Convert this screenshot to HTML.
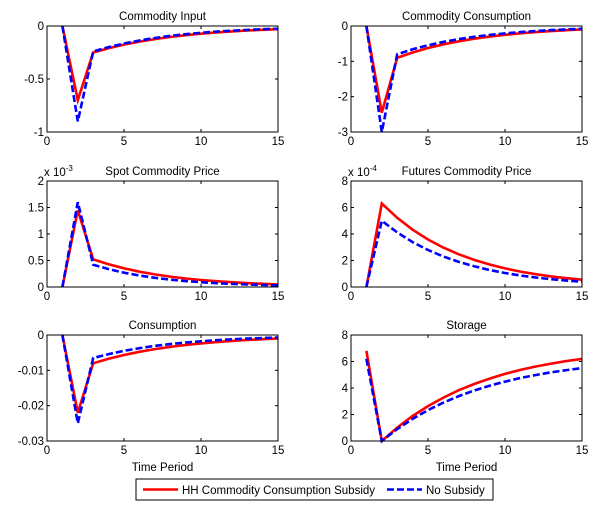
<!DOCTYPE html>
<html><head><style>
body{margin:0;background:#fff;width:600px;height:526px;overflow:hidden}
svg text{font-family:"Liberation Sans",Arial,sans-serif;font-size:11.5px;fill:#000}
</style></head><body>
<svg id="s" width="600" height="526" xmlns="http://www.w3.org/2000/svg"></svg>
<script>
const s=document.getElementById('s');let h='';
function dec(v2,v3,v15){const r=Math.pow(v15/v3,1/12);const a=[0,v2];for(let t=3;t<=15;t++)a.push(v3*Math.pow(r,t-3));return a;}
function stor(v1,L,v15){const q=Math.pow(1-v15/L,1/13);const a=[v1,0];for(let t=3;t<=15;t++)a.push(L*(1-Math.pow(q,t-2)));return a;}
const P=[
{x:47,y:26,t:'Commodity Input',ymin:-1,ymax:0,ticks:[[0,'0'],[-0.5,'-0.5'],[-1,'-1']],r:dec(-0.7,-0.25,-0.03),b:dec(-0.9,-0.24,-0.025)},
{x:351,y:26,t:'Commodity Consumption',ymin:-3,ymax:0,ticks:[[0,'0'],[-1,'-1'],[-2,'-2'],[-3,'-3']],r:dec(-2.45,-0.9,-0.1),b:dec(-3,-0.8,-0.08)},
{x:47,y:181,t:'Spot Commodity Price',ymin:0,ymax:2,ticks:[[0,'0'],[0.5,'0.5'],[1,'1'],[1.5,'1.5'],[2,'2']],r:dec(1.45,0.52,0.05),b:dec(1.6,0.42,0.03),exp:'-3'},
{x:351,y:181,t:'Futures Commodity Price',ymin:0,ymax:8,ticks:[[0,'0'],[2,'2'],[4,'4'],[6,'6'],[8,'8']],r:dec(6.3,5.22,0.55),b:dec(5.0,4.12,0.4),exp:'-4'},
{x:47,y:335,t:'Consumption',ymin:-0.03,ymax:0,ticks:[[0,'0'],[-0.01,'-0.01'],[-0.02,'-0.02'],[-0.03,'-0.03']],r:dec(-0.022,-0.008,-0.001),b:dec(-0.025,-0.0065,-0.0007),xl:1},
{x:351,y:335,t:'Storage',ymin:0,ymax:8,ticks:[[0,'0'],[2,'2'],[4,'4'],[6,'6'],[8,'8']],r:stor(6.8,7.2,6.2),b:stor(6.2,6.4,5.5),xl:1}];
const W=231,H=106;
P.forEach(p=>{
 const X=t=>p.x+t/15*W,Y=v=>p.y+(p.ymax-v)/(p.ymax-p.ymin)*H;
 h+=`<text x="${p.x+W/2}" y="${p.y-6}" text-anchor="middle">${p.t}</text>`;
 if(p.exp)h+=`<text x="${p.x-3}" y="${p.y-5}">x 10<tspan dy="-5" font-size="8">${p.exp}</tspan></text>`;
 const ln=(d,c,da)=>{let pts=d.map((v,i)=>X(i+1).toFixed(1)+','+Y(v).toFixed(1)).join(' ');h+=`<polyline points="${pts}" fill="none" stroke="${c}" stroke-width="2.6" ${da?'stroke-dasharray="7,3"':''}/>`;};
 ln(p.r,'#f00');ln(p.b,'#00f',1);
 h+=`<rect x="${p.x}" y="${p.y}" width="${W}" height="${H}" fill="none" stroke="#000" stroke-width="1"/>`;
 [0,5,10,15].forEach(t=>{const x=X(t);h+=`<line x1="${x}" y1="${p.y+H}" x2="${x}" y2="${p.y+H-3}" stroke="#000"/><line x1="${x}" y1="${p.y}" x2="${x}" y2="${p.y+3}" stroke="#000"/><text x="${x}" y="${p.y+H+13}" text-anchor="middle">${t}</text>`;});
 p.ticks.forEach(([v,l])=>{const y=Y(v);h+=`<line x1="${p.x}" y1="${y}" x2="${p.x+3}" y2="${y}" stroke="#000"/><line x1="${p.x+W}" y1="${y}" x2="${p.x+W-3}" y2="${y}" stroke="#000"/><text x="${p.x-3}" y="${y+4}" text-anchor="end">${l}</text>`;});
 if(p.xl)h+=`<text x="${p.x+W/2}" y="${p.y+H+30}" text-anchor="middle">Time Period</text>`;
});
h+=`<rect x="136" y="479" width="357" height="21" fill="#fff" stroke="#000"/>
<line x1="143" y1="489.5" x2="178" y2="489.5" stroke="#f00" stroke-width="2.6"/>
<text x="182" y="494">HH Commodity Consumption Subsidy</text>
<line x1="387" y1="489.5" x2="422" y2="489.5" stroke="#00f" stroke-width="2.6" stroke-dasharray="7,3"/>
<text x="426" y="494">No Subsidy</text>`;
s.innerHTML=h;
</script>
</body></html>
